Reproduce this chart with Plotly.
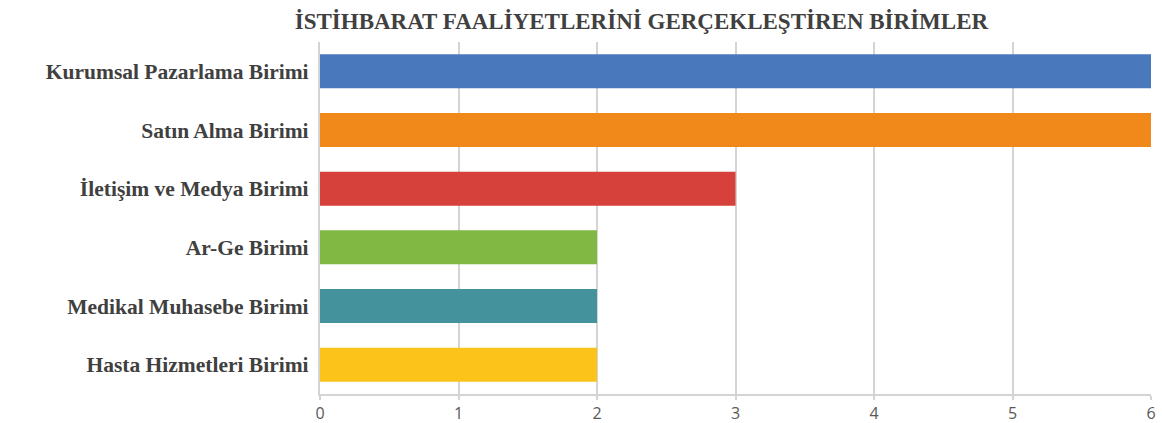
import plotly.graph_objects as go

categories = ["Kurumsal Pazarlama Birimi", "Satın Alma Birimi", "İletişim ve Medya Birimi",
              "Ar-Ge Birimi", "Medikal Muhasebe Birimi", "Hasta Hizmetleri Birimi"]
values = [6, 6, 3, 2, 2, 2]
colors = ["#4A78BD", "#F0891A", "#D7413B", "#80B843", "#44929B", "#FCC31B"]
tick_vals = [0, 1, 2, 3, 4, 5, 6]

fig = go.Figure(go.Bar(
    y=categories, x=values, orientation="h",
    marker=dict(color=colors, line=dict(width=0)),
    hoverinfo="x+y",
))

fig.update_layout(
    width=1162, height=423,
    margin=dict(l=320, r=11, t=42, b=29, autoexpand=False),
    paper_bgcolor="white", plot_bgcolor="white",
    bargap=0.42,
    showlegend=False,
    title=dict(text="<b>İSTİHBARAT FAALİYETLERİNİ GERÇEKLEŞTİREN BİRİMLER</b>",
               x=0.552, xanchor="center", y=0.950, yanchor="middle",
               font=dict(family="Liberation Serif", size=23, color="#404040")),
    xaxis=dict(range=[0, 6], tickvals=tick_vals, showgrid=True, gridcolor="#D4D4D4", gridwidth=1.5,
               automargin=False,
               zeroline=False, showline=True, linecolor="#D4D4D4", linewidth=1.5,
               ticks="outside", ticklen=4, tickcolor="#D4D4D4", tickwidth=1.5,
               tickfont=dict(family="Open Sans", size=16, color="#595959")),
    yaxis=dict(categoryorder="array", categoryarray=categories[::-1],
               automargin=False,
               showgrid=False, showline=True, linecolor="#D4D4D4", linewidth=1.5,
               ticks="",
               tickfont=dict(family="Liberation Serif", size=21.5, color="#404040")),
)
fig.update_yaxes(tickprefix="<b>", ticksuffix="</b> ")

fig.write_html("out.html",
               config={"displayModeBar": False},
               post_script="document.body.style.margin='0';document.body.style.padding='0';document.body.style.overflow='hidden';")
